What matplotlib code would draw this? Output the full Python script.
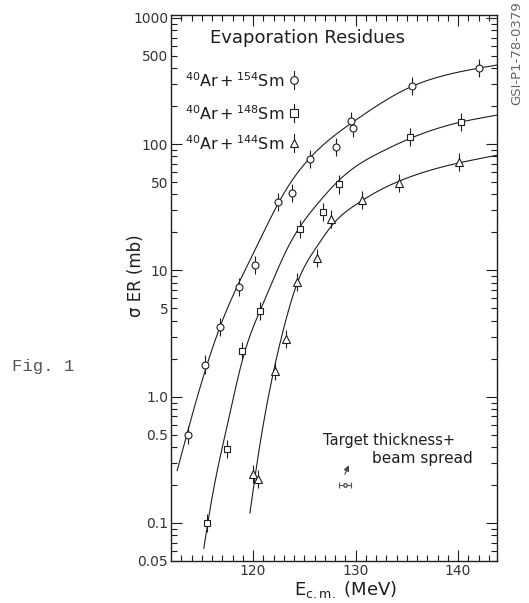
import numpy as np
import matplotlib
matplotlib.use("Agg")
import matplotlib.pyplot as plt
from matplotlib.lines import Line2D
from matplotlib.ticker import FixedLocator, FixedFormatter, NullFormatter

# ---------------- data ----------------
E_154 = [113.66, 115.29, 116.75, 118.63, 120.17, 122.44, 123.85, 125.6, 128.05, 129.6, 129.8, 135.55, 142.05]
S_154 = [0.5, 1.8, 3.55, 7.4, 11.1, 35, 41, 76, 95, 152, 135, 289, 399]

E_148 = [115.55, 117.5, 118.97, 120.72, 124.56, 126.83, 128.39, 135.35, 140.33]
S_148 = [0.1, 0.385, 2.32, 4.75, 21.4, 29, 48, 114, 150]

E_144 = [120.0, 120.5, 122.1, 123.2, 124.3, 126.2, 127.65, 130.63, 134.25, 140.1]
S_144 = [0.244, 0.222, 1.59, 2.87, 8.07, 12.6, 25.5, 35.9, 49.3, 72.4]

# fitted curves: points
CE_154 = [112.6, 114.5, 117.0, 120.0, 123.0, 126.0, 130.0, 135.0, 140.0, 143.8]
CS_154 = [0.26, 0.955, 3.98, 13.5, 40.7, 85, 155, 275, 372, 424]

CE_148 = [115.2, 116.0, 117.5, 119.0, 121.0, 123.5, 126.0, 129.0, 132.5, 136.0, 140.0, 143.8]
CS_148 = [0.063, 0.158, 0.60, 2.0, 5.5, 15.8, 31.6, 57.5, 87, 117, 148, 170]

CE_144 = [119.7, 120.5, 121.5, 123.0, 124.5, 126.0, 128.0, 130.0, 132.0, 134.0, 138.0, 143.8]
CS_144 = [0.12, 0.34, 1.0, 3.5, 8.7, 14.5, 24.3, 33.1, 41.7, 50, 64.6, 81.8]

ERR_FACTOR = 1.18

y_major = [0.1, 1.0, 10, 100, 1000]
y_major_labels = ["0.1", "1.0", "10", "100", "1000"]
x_major = [120, 130, 140]
x_major_labels = ["120", "130", "140"]

# energy-resolution indicator
RES_E, RES_S, RES_DE = 128.95, 0.2, 0.6


# ---------------- helpers ----------------
def natural_spline(x, y, xn):
    x = np.asarray(x, float); y = np.asarray(y, float)
    n = len(x); h = np.diff(x)
    A = np.zeros((n, n)); r = np.zeros(n)
    A[0, 0] = 1; A[-1, -1] = 1
    for i in range(1, n - 1):
        A[i, i - 1] = h[i - 1]; A[i, i] = 2 * (h[i - 1] + h[i]); A[i, i + 1] = h[i]
        r[i] = 6 * ((y[i + 1] - y[i]) / h[i] - (y[i] - y[i - 1]) / h[i - 1])
    M = np.linalg.solve(A, r)
    idx = np.clip(np.searchsorted(x, xn) - 1, 0, n - 2)
    x0, x1 = x[idx], x[idx + 1]; hh = h[idx]
    a = (x1 - xn) / hh; b = (xn - x0) / hh
    return (a * y[idx] + b * y[idx + 1]
            + ((a**3 - a) * M[idx] + (b**3 - b) * M[idx + 1]) * hh**2 / 6)


def curve(ce, cs):
    xn = np.linspace(ce[0], ce[-1], 500)
    return xn, 10 ** natural_spline(ce, np.log10(cs), xn)


W, H = 529, 603
INK = "#1e1e1e"
plt.rcParams["font.family"] = ["DejaVu Sans"]
plt.rcParams["mathtext.fontset"] = "dejavusans"

fig = plt.figure(figsize=(W / 100, H / 100), dpi=100)
fig.patch.set_facecolor("white")
ax = fig.add_axes([171 / W, 1 - 561 / H, (497 - 171) / W, (561 - 15) / H])
ax.set_yscale("log")
ax.set_xlim(112.0, 143.8)
ax.set_ylim(0.05, 1056)

# curves
for ce, cs in [(CE_154, CS_154), (CE_148, CS_148), (CE_144, CS_144)]:
    xn, yn = curve(ce, cs)
    ax.plot(xn, yn, color=INK, lw=0.8, zorder=2)


def pts(E, S, marker, ms):
    S = np.asarray(S, float)
    yerr = [S - S / ERR_FACTOR, S * ERR_FACTOR - S]
    ax.errorbar(E, S, yerr=yerr, fmt=marker, ms=ms, mfc="white", mec=INK, mew=0.8,
                ecolor=INK, elinewidth=0.8, capsize=0, zorder=3)


pts(E_154, S_154, "o", 5)
pts(E_148, S_148, "s", 4.6)
pts(E_144, S_144, "^", 5.5)

# resolution indicator
ax.errorbar([RES_E], [RES_S], xerr=[RES_DE], fmt="o", ms=2.5, mfc="white", mec="#555",
            ecolor="#555", elinewidth=0.8, capsize=2.5, capthick=0.8, zorder=3)
ax.annotate("", xy=(129.45, 0.30), xytext=(128.85, 0.232),
            arrowprops=dict(arrowstyle="-|>", color="#444", lw=0.8, mutation_scale=8))
fig.text(323 / W, 1 - 440 / H, "Target thickness+", fontsize=10.5, color=INK,
         ha="left", va="center")
fig.text(372 / W, 1 - 459 / H, "beam spread", fontsize=11, color=INK,
         ha="left", va="center")

# ticks
ax.yaxis.set_major_locator(FixedLocator(y_major))
ax.yaxis.set_major_formatter(FixedFormatter(y_major_labels))
minor = [m * 10.0 ** e for e in range(-2, 3) for m in range(2, 10)]
minor = [v for v in minor if 0.05 <= v <= 1056]
minor_labels = [("%g" % v) if round(v / 10 ** np.floor(np.log10(v) + 1e-9)) == 5 else ""
                for v in minor]
ax.yaxis.set_minor_locator(FixedLocator(minor))
ax.yaxis.set_minor_formatter(FixedFormatter(minor_labels))
ax.xaxis.set_major_locator(FixedLocator(x_major))
ax.xaxis.set_major_formatter(FixedFormatter(x_major_labels))
ax.xaxis.set_minor_locator(FixedLocator(np.arange(113, 144, 1)))
ax.xaxis.set_minor_formatter(NullFormatter())
ax.tick_params(which="both", direction="in", top=True, right=True, color=INK,
               labelcolor="#333", labelsize=10, width=0.8)
ax.tick_params(which="major", length=8, pad=2)
ax.tick_params(which="minor", length=4, pad=2)
for s in ax.spines.values():
    s.set_linewidth(1.0); s.set_color(INK)

# axis labels
fig.text(136 / W, 1 - 276 / H, "σ ER (mb)", rotation=90, fontsize=12, color=INK,
         ha="center", va="center")
fig.text(346 / W, 1 - 590 / H, r"E$_{\rm c.m.}$ (MeV)", fontsize=13, color=INK,
         ha="center", va="center")

# legend block
fig.text(210 / W, 1 - 38 / H, "Evaporation Residues", fontsize=13, color=INK,
         ha="left", va="center")
leg_rows = [(80, r"$^{40}$Ar$\,$+$\,$$^{154}$Sm", "o", 5),
            (113, r"$^{40}$Ar$\,$+$\,$$^{148}$Sm", "s", 4.6),
            (143, r"$^{40}$Ar$\,$+$\,$$^{144}$Sm", "^", 5.5)]
for y, lab, mk, ms in leg_rows:
    fig.text(185 / W, 1 - (y + 1) / H, lab, fontsize=11.5, color=INK, ha="left", va="center")
    fig.add_artist(Line2D([294 / W, 294 / W], [1 - (y - 9) / H, 1 - (y + 9) / H],
                          transform=fig.transFigure, color=INK, lw=0.8))
    fig.add_artist(Line2D([294 / W], [1 - y / H], transform=fig.transFigure, marker=mk,
                          ms=ms + 0.5, mfc="white", mec=INK, mew=0.8, ls="none"))

# page texts
fig.text(12 / W, 1 - 367 / H, "Fig. 1", family="Liberation Mono", fontsize=12.5,
         color="#555", ha="left", va="center")
fig.text(517 / W, 1 - 53 / H, "GSI-P1-78-0379", rotation=90, fontsize=9.5,
         color="#666", ha="center", va="center")

fig.savefig("out.png", dpi=100, facecolor="white")
